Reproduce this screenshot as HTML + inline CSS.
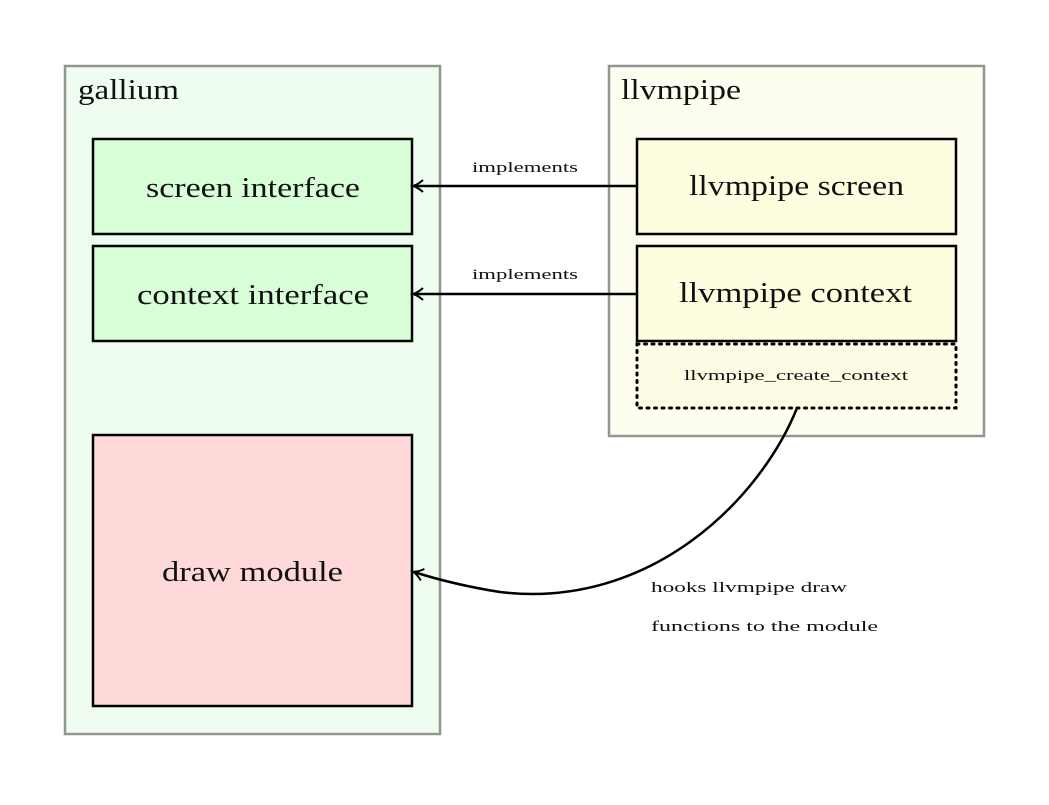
<!DOCTYPE html>
<html><head><meta charset="utf-8"><style>
html,body{margin:0;padding:0;background:#fff;}
svg text{font-family:"Liberation Serif",serif;fill:#111;}
</style></head><body>
<svg width="1049" height="800" xmlns="http://www.w3.org/2000/svg">
<defs>
<marker id="a" markerWidth="14" markerHeight="14" refX="10" refY="7" orient="auto" markerUnits="userSpaceOnUse">
<path d="M1,1 Q6,5.5 11,7 Q6,8.5 1,13" fill="none" stroke="#000" stroke-width="2"/>
</marker>
</defs>
<rect x="65" y="66" width="375" height="668" fill="#effdf0" stroke="#949494" stroke-width="2.5"/>
<rect x="609" y="66" width="375" height="370" fill="#fefef0" stroke="#949494" stroke-width="2.5"/>
<text x="78" y="99" font-size="28" textLength="101" lengthAdjust="spacingAndGlyphs">gallium</text>
<text x="621" y="99" font-size="28" textLength="120" lengthAdjust="spacingAndGlyphs">llvmpipe</text>
<rect x="93" y="139" width="319" height="95" fill="#d9ffd9" stroke="#000" stroke-width="2.5"/>
<rect x="93" y="246" width="319" height="95" fill="#d9ffd9" stroke="#000" stroke-width="2.5"/>
<rect x="93" y="435" width="319" height="271" fill="#ffd9d9" stroke="#000" stroke-width="2.5"/>
<rect x="637" y="139" width="319" height="95" fill="#fffde0" stroke="#000" stroke-width="2.5"/>
<rect x="637" y="246" width="319" height="95" fill="#fffde0" stroke="#000" stroke-width="2.5"/>
<rect x="637" y="344" width="319" height="64" fill="#fdfbe4" stroke="#000" stroke-width="3" stroke-dasharray="2 5.5" stroke-linecap="round"/>
<text x="146" y="197" font-size="29" textLength="214" lengthAdjust="spacingAndGlyphs">screen interface</text>
<text x="137" y="304" font-size="29" textLength="232" lengthAdjust="spacingAndGlyphs">context interface</text>
<text x="162" y="581" font-size="29" textLength="181" lengthAdjust="spacingAndGlyphs">draw module</text>
<text x="689" y="195" font-size="29" textLength="215" lengthAdjust="spacingAndGlyphs">llvmpipe screen</text>
<text x="679" y="302" font-size="29" textLength="233" lengthAdjust="spacingAndGlyphs">llvmpipe context</text>
<text x="684" y="380" font-size="15" textLength="224" lengthAdjust="spacingAndGlyphs">llvmpipe_create_context</text>
<line x1="637" y1="186" x2="414" y2="186" stroke="#000" stroke-width="2.5" marker-end="url(#a)"/>
<line x1="637" y1="294" x2="414" y2="294" stroke="#000" stroke-width="2.5" marker-end="url(#a)"/>
<text x="472" y="172" font-size="15" textLength="106" lengthAdjust="spacingAndGlyphs">implements</text>
<text x="472" y="279" font-size="15" textLength="106" lengthAdjust="spacingAndGlyphs">implements</text>
<path d="M797,408 C760,500 650,610 500,592 Q455,585 414,572" fill="none" stroke="#000" stroke-width="2.5" marker-end="url(#a)"/>
<text x="651" y="592" font-size="15" textLength="196" lengthAdjust="spacingAndGlyphs">hooks llvmpipe draw</text>
<text x="651" y="631" font-size="15" textLength="227" lengthAdjust="spacingAndGlyphs">functions to the module</text>
</svg>
</body></html>
